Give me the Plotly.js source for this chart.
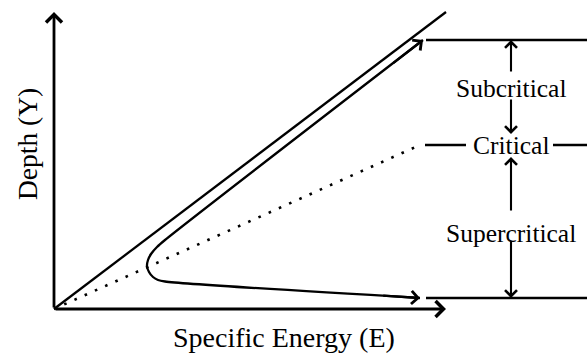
<!DOCTYPE html>
<html>
<head>
<meta charset="utf-8">
<script src="https://cdn.plot.ly/plotly-3.0.1.min.js"></script>
<style>html,body{margin:0;padding:0;background:#fff;}#chart{width:587px;height:354px;}</style>
</head>
<body>
<div id="chart"></div>
<script>
// Specific energy diagram, data in (E, Y) units with origin at the axes corner
const eAxisEnd = 392;          // tip of the E axis arrow
const yAxisEnd = 297;          // tip of the Y axis arrow
const limitE = [0, 392];       // E = Y limiting line
const limitY = [0, 297];
const curveE = [369, 111, 103, 97, 94, 93, 95, 99, 104, 111, 366];   // specific energy curve
const curveY = [269, 69, 62, 55, 49, 43, 37, 32, 29, 27.5, 11];
const criticalE = [0, 366];    // critical depth line (dotted)
const criticalY = [0, 164];
const subLevelE = [372, 533];  const subLevelY = [269, 269];
const critLeftE = [371, 412];  const critLeftY = [164, 164];
const critRightE = [499, 533]; const critRightY = [164, 164];
const superLevelE = [372, 533]; const superLevelY = [11, 11];
const regionLabels = ["Subcritical", "Critical", "Supercritical"];
const regionLabelE = 457;
const regionLabelY = [221, 164, 75.5];
// vertical region arrows: [tailY, tipY]
const regionArrows = [[236, 269], [211, 175], [97, 152], [69, 11]];
const xTitle = "Specific Energy (E)";
const yTitle = "Depth (Y)";

const black = "#000";
const serif = "Liberation Serif, Times New Roman, serif";

function line(x, y, w, dash, shape) {
  return {x: x, y: y, type: "scatter", mode: "lines", hoverinfo: "skip",
          line: {color: black, width: w, dash: dash || "solid", shape: shape || "linear", smoothing: 0.8}};
}

const traces = [
  line(limitE, limitY, 2.3),
  line(curveE, curveY, 2.3, "solid", "spline"),
  line(criticalE, criticalY, 2.6, "2.6px,8.6px"),
  line(subLevelE, subLevelY, 2.3),
  line(critLeftE, critLeftY, 2.3),
  line(critRightE, critRightY, 2.3),
  line(superLevelE, superLevelY, 2.3)
];

function arrow(x, y, ax, ay, w) {
  return {x: x, y: y, ax: ax, ay: ay, xref: "x", yref: "y", axref: "x", ayref: "y",
          text: "", showarrow: true, arrowhead: 4, arrowsize: 1.1, arrowwidth: w || 2,
          arrowcolor: black, standoff: 0, startstandoff: 0};
}
function label(text, x, y, size, angle) {
  return {x: x, y: y, xref: "x", yref: "y", text: text, showarrow: false,
          textangle: angle || 0, xanchor: "center", yanchor: "middle",
          font: {family: serif, size: size, color: black}};
}

const n = curveE.length;
const annotations = [
  arrow(eAxisEnd, 0, 0, 0, 2.8),
  arrow(0, yAxisEnd, 0, 0, 2.8),
  arrow(curveE[0], curveY[0], curveE[0] + (curveE[1] - curveE[0]) * 0.12, curveY[0] + (curveY[1] - curveY[0]) * 0.12, 2.3),
  arrow(curveE[n - 1], curveY[n - 1], curveE[n - 1] + (curveE[n - 2] - curveE[n - 1]) * 0.15, curveY[n - 1] + (curveY[n - 2] - curveY[n - 1]) * 0.15, 2.3),
  label(xTitle, 229.5, -28.5, 28),
  label(yTitle, -27, 165, 27.5, -90)
];
regionArrows.forEach(function (a) { annotations.push(arrow(regionLabelE, a[1], regionLabelE, a[0], 2.1)); });
regionLabels.forEach(function (t, i) { annotations.push(label(t, regionLabelE, regionLabelY[i], 25.5)); });

const layout = {
  width: 587, height: 354,
  margin: {l: 0, r: 0, t: 0, b: 0, pad: 0},
  paper_bgcolor: "#fff", plot_bgcolor: "#fff",
  showlegend: false,
  xaxis: {range: [-54, 533], visible: false, fixedrange: true},
  yaxis: {range: [-45, 309], visible: false, fixedrange: true},
  annotations: annotations
};

Plotly.newPlot("chart", traces, layout, {staticPlot: true, displayModeBar: false});
</script>
</body>
</html>
